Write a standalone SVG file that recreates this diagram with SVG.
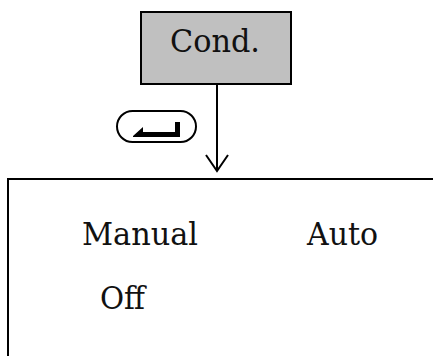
<svg xmlns="http://www.w3.org/2000/svg" width="433" height="356" viewBox="0 0 433 356">
  <style>
    .box { stroke: #000; stroke-width: 2; }
    .lbl { font-family: "DejaVu Serif", serif; font-size: 32px; fill: #111; }
    .wire { stroke: #000; stroke-width: 2; fill: none; }
  </style>
  <rect width="433" height="356" fill="#fff"/>

  <g id="cond">
    <rect class="box" x="141" y="12" width="150" height="72" fill="#c0c0c0"/>
    <text class="lbl" x="170" y="52" textLength="90" lengthAdjust="spacingAndGlyphs">Cond.</text>
  </g>

  <g id="connectors">
    <line class="wire" x1="217" y1="84" x2="217" y2="171"/>
    <polyline class="wire" points="206,155 217,171 228,155"/>
  </g>

  <g id="enter-key">
    <rect x="117" y="111" width="79" height="31" rx="15.5" fill="none" stroke="#000" stroke-width="2"/>
    <polygon points="133,136 143,127 143,132 175,132 175,122 180,122 180,137 133,137" fill="#000"/>
  </g>

  <g id="modes">
    <rect class="box" x="8" y="179" width="440" height="200" fill="#fff"/>
    <text class="lbl" x="82" y="245" textLength="116" lengthAdjust="spacingAndGlyphs">Manual</text>
    <text class="lbl" x="307" y="245" textLength="71" lengthAdjust="spacingAndGlyphs">Auto</text>
    <text class="lbl" x="100" y="309" textLength="45" lengthAdjust="spacingAndGlyphs">Off</text>
  </g>
</svg>
